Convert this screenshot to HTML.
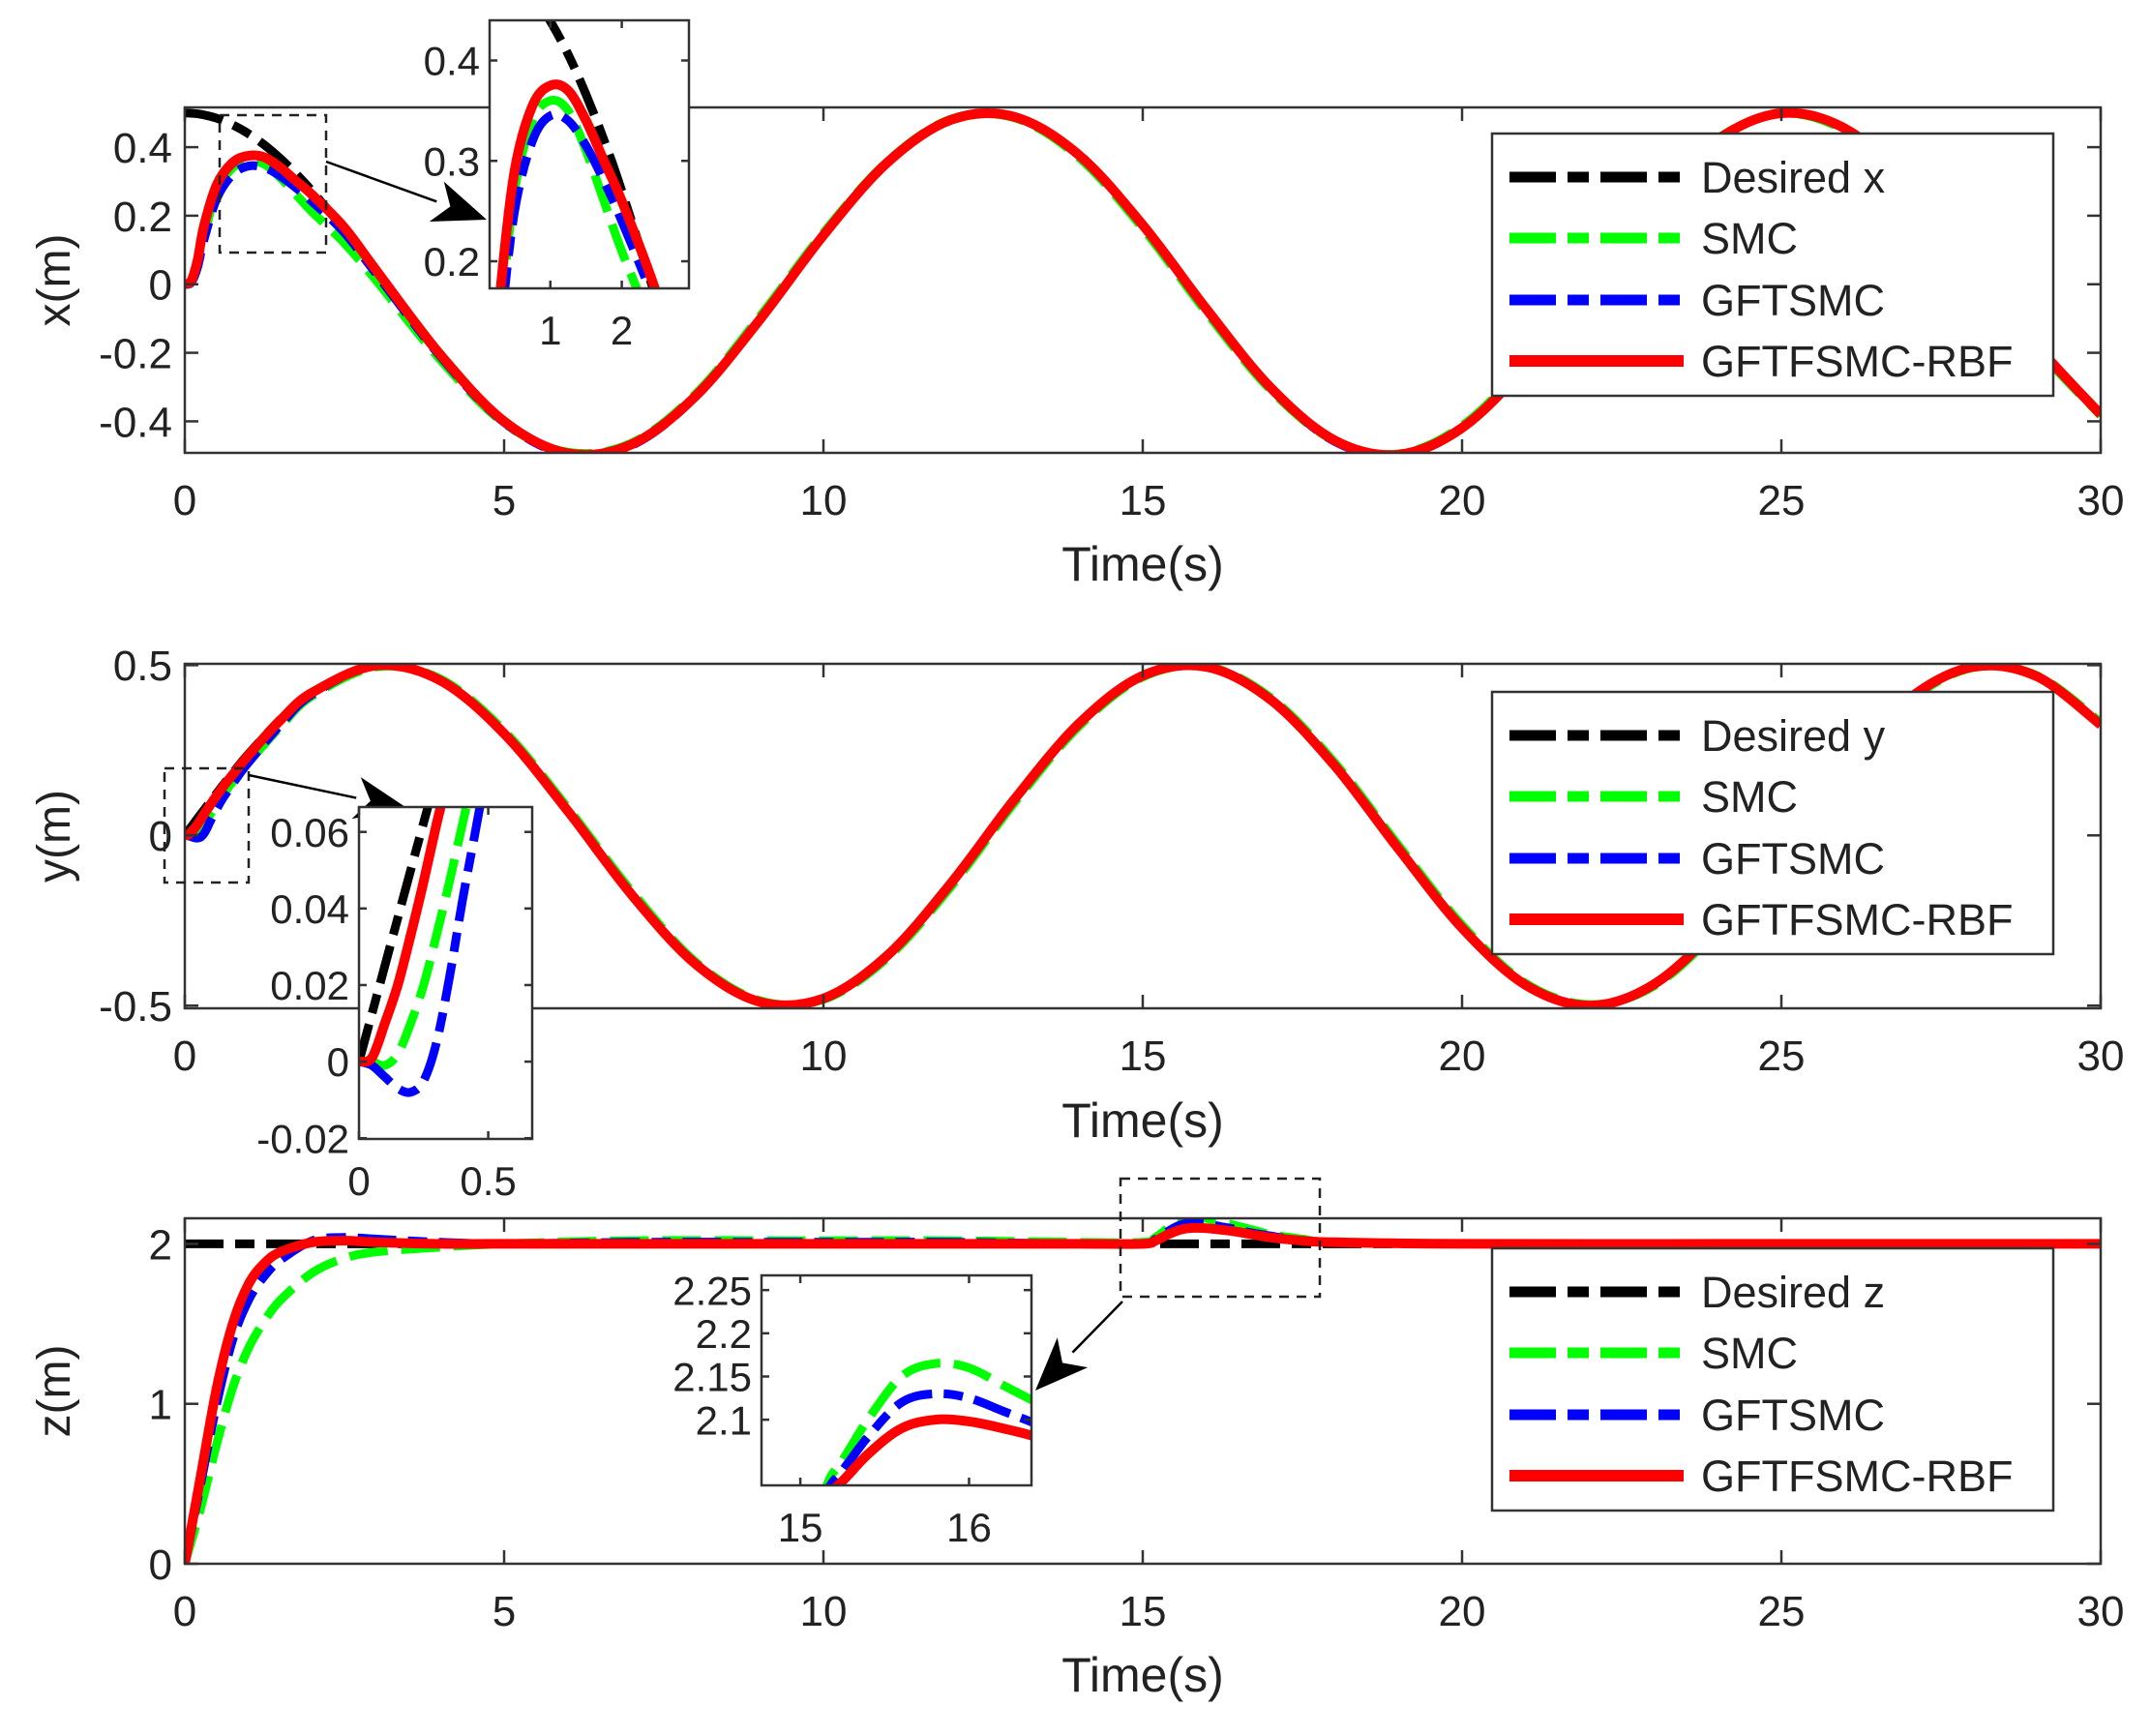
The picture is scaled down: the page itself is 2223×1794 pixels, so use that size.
<!DOCTYPE html>
<html><head><meta charset="utf-8"><style>
html,body{margin:0;padding:0;background:#fff;overflow:hidden;width:2223px;height:1794px}
svg{display:block}
text{font-family:"Liberation Sans",Arial,sans-serif;fill:#222}
</style></head><body>
<svg id="chart" width="2223" height="1794" viewBox="0 0 2223 1794" xmlns="http://www.w3.org/2000/svg">
<defs>
<clipPath id="c1"><rect x="191" y="111" width="1980" height="357"/></clipPath>
<clipPath id="c2"><rect x="191" y="686" width="1980" height="356"/></clipPath>
<clipPath id="c3"><rect x="191" y="1259" width="1980" height="357"/></clipPath>
<clipPath id="i1"><rect x="506" y="21" width="206" height="277"/></clipPath>
<clipPath id="i2"><rect x="371" y="834" width="179" height="343"/></clipPath>
<clipPath id="i3"><rect x="787" y="1318" width="279" height="217"/></clipPath>
</defs>
<g id="root"></g>
</svg>
<script>
// ---------- data ----------
const tX = [0,0.1,0.2,0.3,0.5,0.75,1,1.25,1.5,1.75,2,2.5,3,4,5,6,7,8,9,10,11,12,13,14,15,16,17,18,19,20,21,22,23,24,25,26,27,28,29,30];
const xDesired = [0.5,0.499,0.4975,0.494,0.4845,0.465,0.439,0.406,0.366,0.321,0.270,0.158,0.035,-0.208,-0.401,-0.495,-0.468,-0.327,-0.105,0.142,0.354,0.480,0.488,0.377,0.173,-0.073,-0.301,-0.456,-0.499,-0.420,-0.238,0.002,0.242,0.422,0.499,0.454,0.297,0.068,-0.178,-0.380];
const xSMC = [0,0.005,0.05,0.14,0.27,0.34,0.36,0.35,0.31,0.26,0.21,0.12,0.01,-0.22,-0.405,-0.49,-0.463,-0.32,-0.095,0.15,0.358,0.482,0.485,0.37,0.163,-0.083,-0.308,-0.457,-0.495,-0.413,-0.228,0.012,0.25,0.425,0.498,0.448,0.29,0.058,-0.186,-0.383];
const xGFTSMC = [0,0.005,0.05,0.13,0.25,0.32,0.345,0.34,0.315,0.28,0.24,0.15,0.03,-0.21,-0.403,-0.497,-0.47,-0.328,-0.104,0.143,0.355,0.481,0.487,0.376,0.172,-0.074,-0.302,-0.458,-0.5,-0.42,-0.238,0.003,0.243,0.422,0.499,0.453,0.296,0.067,-0.179,-0.381];
const xRBF = [0,0.01,0.07,0.17,0.29,0.355,0.375,0.37,0.34,0.30,0.26,0.165,0.04,-0.205,-0.4,-0.493,-0.467,-0.326,-0.104,0.143,0.355,0.48,0.488,0.377,0.173,-0.073,-0.301,-0.455,-0.497,-0.419,-0.237,0.003,0.243,0.422,0.499,0.454,0.297,0.068,-0.178,-0.380];

const tY = [0,0.05,0.1,0.15,0.2,0.25,0.3,0.35,0.4,0.45,0.5,0.6,0.8,1,1.5,2,3,4,5,6,7,8,9,10,11,12,13,14,15,16,17,18,19,20,21,22,23,24,25,26,27,28,29,30];
const yDesired = [0,0.0125,0.025,0.0375,0.05,0.0624,0.0748,0.0873,0.0997,0.112,0.124,0.148,0.195,0.240,0.341,0.421,0.499,0.455,0.299,0.071,-0.175,-0.378,-0.489,-0.479,-0.353,-0.140,0.108,0.328,0.469,0.495,0.399,0.206,-0.038,-0.272,-0.440,-0.500,-0.438,-0.268,-0.033,0.210,0.402,0.495,0.467,0.325];
const ySMC = [0,0,-0.001,0.002,0.01,0.02,0.033,0.047,0.062,0.077,0.092,0.12,0.17,0.215,0.32,0.41,0.495,0.46,0.307,0.08,-0.165,-0.372,-0.485,-0.482,-0.36,-0.15,0.098,0.32,0.465,0.496,0.405,0.215,-0.028,-0.263,-0.435,-0.497,-0.443,-0.276,-0.043,0.2,0.395,0.493,0.47,0.332];
const yGFTSMC = [0,-0.001,-0.004,-0.007,-0.008,-0.005,0.005,0.022,0.042,0.06,0.078,0.11,0.165,0.215,0.325,0.415,0.499,0.456,0.3,0.072,-0.174,-0.378,-0.489,-0.48,-0.354,-0.141,0.107,0.328,0.469,0.495,0.4,0.207,-0.037,-0.271,-0.44,-0.5,-0.439,-0.269,-0.034,0.209,0.402,0.495,0.468,0.326];
const yRBF = [0,0.001,0.01,0.02,0.033,0.047,0.062,0.076,0.09,0.104,0.117,0.143,0.19,0.236,0.339,0.42,0.499,0.455,0.299,0.071,-0.175,-0.378,-0.489,-0.479,-0.353,-0.140,0.108,0.328,0.469,0.495,0.399,0.206,-0.038,-0.272,-0.440,-0.500,-0.438,-0.268,-0.033,0.210,0.402,0.495,0.467,0.325];

const tZ = [0,0.25,0.5,0.75,1,1.25,1.5,2,2.5,3,4,5,7,10,12,14,15,15.2,15.4,15.6,15.8,16,16.2,16.4,16.7,17,17.5,18,20,25,30];
const zDesired = [2,2,2,2,2,2,2,2,2,2,2,2,2,2,2,2,2,2,2,2,2,2,2,2,2,2,2,2,2,2,2];
const zSMC = [0,0.35,0.75,1.1,1.35,1.52,1.65,1.82,1.91,1.95,1.98,2.0,2.02,2.02,2.02,2.01,2.01,2.04,2.1,2.15,2.165,2.16,2.14,2.12,2.09,2.06,2.03,2.01,2.0,2.0,2.0];
const zGFTSMC = [0,0.5,1.0,1.4,1.65,1.8,1.9,2.02,2.04,2.03,2.01,2.0,2.01,2.01,2.01,2.0,2.0,2.03,2.08,2.12,2.13,2.125,2.11,2.095,2.07,2.05,2.02,2.01,2.0,2.0,2.0];
const zRBF = [0,0.55,1.1,1.5,1.75,1.88,1.95,2.01,2.02,2.01,2.0,2.0,2.0,2.0,2.0,2.0,2.0,2.02,2.06,2.09,2.1,2.098,2.09,2.08,2.06,2.04,2.02,2.01,2.0,2.0,2.0];

const xTicks = [0,5,10,15,20,25,30];
const xTickLabels = ["0","5","10","15","20","25","30"];
const y1Ticks = [-0.4,-0.2,0,0.2,0.4];
const y1TickLabels = ["-0.4","-0.2","0","0.2","0.4"];
const y2Ticks = [-0.5,0,0.5];
const y2TickLabels = ["-0.5","0","0.5"];
const y3Ticks = [0,1,2];
const y3TickLabels = ["0","1","2"];
const seriesNames = ["Desired","SMC","GFTSMC","GFTFSMC-RBF"];

// ---------- drawing ----------
const NS = "http://www.w3.org/2000/svg";
const root = document.getElementById('root');
function mk(tag, attrs, parent){const e=document.createElementNS(NS,tag);for(const k in attrs)e.setAttribute(k,attrs[k]);(parent||root).appendChild(e);return e;}
function scale(d0,d1,r0,r1){return v=>r0+(v-d0)/(d1-d0)*(r1-r0);}
function pathD(ts,vs,sx,sy){
  const p=ts.map((t,i)=>[sx(t),sy(vs[i])]);
  let d="M"+p[0][0].toFixed(1)+","+p[0][1].toFixed(1);
  for(let i=0;i<p.length-1;i++){
    const p0=p[Math.max(0,i-1)],p1=p[i],p2=p[i+1],p3=p[Math.min(p.length-1,i+2)];
    const c1=[p1[0]+(p2[0]-p0[0])/6,p1[1]+(p2[1]-p0[1])/6];
    const c2=[p2[0]-(p3[0]-p1[0])/6,p2[1]-(p3[1]-p1[1])/6];
    d+=" C"+c1[0].toFixed(1)+","+c1[1].toFixed(1)+" "+c2[0].toFixed(1)+","+c2[1].toFixed(1)+" "+p2[0].toFixed(1)+","+p2[1].toFixed(1);
  }
  return d;
}
const styles=[
 {stroke:"#000",dash:"40 12 20 12",w:9},
 {stroke:"#00ff00",dash:"40 14",w:9},
 {stroke:"#0000ff",dash:"40 12 20 12",w:9},
 {stroke:"#ff0000",dash:"none",w:10}
];
function drawSeries(g,ts,list,sx,sy,clip,names){
  const grp=mk('g',{'clip-path':'url(#'+clip+')'},g);
  list.forEach((vs,k)=>{
    const s=styles[k];
    const el=mk('path',{d:pathD(ts,vs,sx,sy),fill:'none',stroke:s.stroke,'stroke-width':s.w,'stroke-dasharray':s.dash,'stroke-linejoin':'round'},grp);
    
    
  });
}
function drawAxes(g,L,R,T,B,sx,sy,xt,xtl,yt,ytl,fs,tickLen,xlY,ylX){
  mk('rect',{x:L,y:T,width:R-L,height:B-T,fill:'none',stroke:'#333','stroke-width':2.5},g);
  xt.forEach((v,i)=>{
    const x=sx(v);
    mk('line',{x1:x,y1:B,x2:x,y2:B-tickLen,stroke:'#333','stroke-width':2.5},g);
    mk('line',{x1:x,y1:T,x2:x,y2:T+tickLen,stroke:'#333','stroke-width':2.5},g);
    const t=mk('text',{x:x,y:xlY,'font-size':fs,'text-anchor':'middle'},g);t.textContent=xtl[i];
    
    
  });
  yt.forEach((v,i)=>{
    const y=sy(v);
    mk('line',{x1:L,y1:y,x2:L+tickLen,y2:y,stroke:'#333','stroke-width':2.5},g);
    mk('line',{x1:R,y1:y,x2:R-tickLen,y2:y,stroke:'#333','stroke-width':2.5},g);
    const t=mk('text',{x:ylX,y:y+fs*0.36,'font-size':fs,'text-anchor':'end'},g);t.textContent=ytl[i];
    
    
  });
}
function drawLegend(g,x,y,label){
  mk('rect',{x:x,y:y,width:580,height:271,fill:'#fff',stroke:'#333','stroke-width':2.5},g);
  const labels=[label,"SMC","GFTSMC","GFTFSMC-RBF"];
  const rows=[45,108,172,235];
  labels.forEach((lab,k)=>{
    const s=styles[k];
    const ln=mk('line',{x1:x+18,y1:y+rows[k],x2:x+198,y2:y+rows[k],stroke:s.stroke,'stroke-width':s.w+2,'stroke-dasharray':k===3?'none':'48 12 22 12'},g);
    
    
    const t=mk('text',{x:x+216,y:y+rows[k]+16,'font-size':45},g);t.textContent=lab;
    
    
  });
}
function arrow(g,x1,y1,x2,y2){
  const ang=Math.atan2(y2-y1,x2-x1),L=55,W=22;
  const bx=x2-L*Math.cos(ang),by=y2-L*Math.sin(ang);
  mk('line',{x1:x1,y1:y1,x2:bx,y2:by,stroke:'#000','stroke-width':2.5},g);
  const px=-Math.sin(ang)*W,py=Math.cos(ang)*W;
  mk('polygon',{points:`${x2},${y2} ${bx+px},${by+py} ${bx+15*Math.cos(ang)},${by+15*Math.sin(ang)} ${bx-px},${by-py}`,fill:'#000'},g);
}
const sx=scale(0,30,191,2171);

function panel(id,T,B,y0,y1,ts,sets,yt,ytl,ylab,legendLabel,legY,labY){
  const g=mk('g',{});
  
  
  const sy=scale(y0,y1,B,T);
  drawSeries(g,ts,sets,sx,sy,'c'+id.slice(-1),['desired-line','smc-line','gftsmc-line','gftfsmc-rbf-line']);
  drawAxes(g,191,2171,T,B,sx,sy,xTicks,xTickLabels,yt,ytl,44,14,B+64,178);
  const xl=mk('text',{x:1181,y:labY,'font-size':50,'text-anchor':'middle'},g);xl.textContent="Time(s)";
  
  
  const cy=(T+B)/2;
  const yl=mk('text',{x:0,y:0,'font-size':48,'text-anchor':'middle',transform:`translate(72,${cy}) rotate(-90)`},g);yl.textContent=ylab;
  
  
  drawLegend(g,1542,legY,legendLabel);
  return g;
}
const g1=panel('panel-1',111,468,-0.492,0.516,tX,[xDesired,xSMC,xGFTSMC,xRBF],y1Ticks,y1TickLabels,'x(m)','Desired x',138,600);
const g2=panel('panel-2',686,1042,-0.508,0.504,tY,[yDesired,ySMC,yGFTSMC,yRBF],y2Ticks,y2TickLabels,'y(m)','Desired y',715,1175);
const g3=panel('panel-3',1259,1616,0,2.16,tZ,[zDesired,zSMC,zGFTSMC,zRBF],y3Ticks,y3TickLabels,'z(m)','Desired z',1290,1748);

function inset(name,g,L,R,T,B,x0,x1,y0,y1,ts,sets,xt,xtl,yt,ytl,clip,rect,arr){
  mk('rect',{x:rect[0],y:rect[1],width:rect[2],height:rect[3],fill:'none',stroke:'#222','stroke-width':2.5,'stroke-dasharray':'10 8'},g);
  arrow(g,arr[0],arr[1],arr[2],arr[3]);
  const ig=mk('g',{},g);
  
  
  mk('rect',{x:L,y:T,width:R-L,height:B-T,fill:'#fff'},ig);
  const isx=scale(x0,x1,L,R),isy=scale(y0,y1,B,T);
  drawSeries(ig,ts,sets,isx,isy,clip,['inset-desired','inset-smc','inset-gftsmc','inset-rbf']);
  drawAxes(ig,L,R,T,B,isx,isy,xt,xtl,yt,ytl,42,8,B+58,L-10);
}
inset('inset-x',g1,506,712,21,298,0.15,2.94,0.173,0.44,tX,[xDesired,xSMC,xGFTSMC,xRBF],[1,2],["1","2"],[0.2,0.3,0.4],["0.2","0.3","0.4"],'i1',[227,119,110,142],[337,167,503,227]);
inset('inset-y',g2,371,550,834,1177,0,0.67,-0.0202,0.0665,tY,[yDesired,ySMC,yGFTSMC,yRBF],[0,0.5],["0","0.5"],[-0.02,0,0.02,0.04,0.06],["-0.02","0","0.02","0.04","0.06"],'i2',[170,794,87,118],[257,801,422,836]);
inset('inset-z',g3,787,1066,1318,1535,14.77,16.37,2.024,2.267,tZ,[zDesired,zSMC,zGFTSMC,zRBF],[15,16],["15","16"],[2.1,2.15,2.2,2.25],["2.1","2.15","2.2","2.25"],'i3',[1158,1218,206,122],[1160,1345,1070,1437]);
</script>
</body></html>
